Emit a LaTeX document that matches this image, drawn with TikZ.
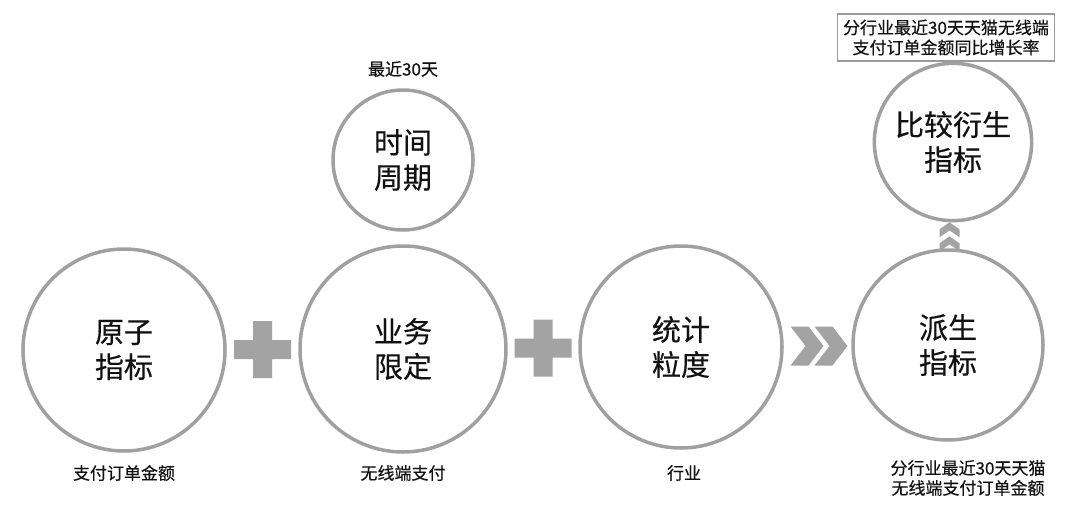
\documentclass[tikz,border=0pt]{standalone}
\usepackage{fontspec}
\setmainfont[FakeBold=0.4]{Noto Sans CJK SC}
\usetikzlibrary{calc}
\definecolor{ringgray}{HTML}{A0A0A0}
\definecolor{markgray}{HTML}{A3A3A3}
\definecolor{boxgray}{HTML}{9A9A9A}
\definecolor{inkcol}{HTML}{111111}
\begin{document}
\begin{tikzpicture}[x=1pt,y=-1pt,
  ring/.style={circle, draw=ringgray, line width=3.5pt, fill=white, align=center,
    text=inkcol, font=\fontsize{29}{35}\selectfont, inner sep=0pt},
  note/.style={align=center, text=inkcol, font=\fontsize{17}{20}\selectfont, inner sep=0pt},
  markfill/.style={fill=markgray}
]
\useasboundingbox[fill=white] (0,0) rectangle (1080,520);

% circles
\node[ring, minimum size=202pt] (c1) at (124,350) {原子\\指标};
\node[ring, minimum size=206pt] (c2) at (403,349) {业务\\限定};
\node[ring, minimum size=202pt] (c3) at (681,347) {统计\\粒度};
\node[ring, minimum size=190pt] (c4) at (948,345) {派生\\指标};
\node[ring, minimum size=140pt] (ct) at (403,160) {时间\\周期};
\node[ring, minimum size=134pt] (cc) at (953,142) {\raisebox{-4pt}{\parbox{5em}{\centering 比较衍生\\指标}}};

% labels
\node[note] (l1) at (124,473) {支付订单金额};
\node[note] (l2) at (403,473) {无线端支付};
\node[note] (l3) at (684,473) {行业};
\node[note] (l4) at (968,478) {分行业最近30天天猫\\无线端支付订单金额};
\node[note] (lt) at (403,69) {最近30天};
\node[note, draw=boxgray, line width=1.5pt, minimum width=217pt, minimum height=47pt] (box) at (946,37.5) {分行业最近30天天猫无线端\\支付订单金额同比增长率};

% plus signs
\coordinate (p1) at ($(c1.east)!0.5!(c2.west)$);
\coordinate (p2) at ($(c2.east)!0.5!(c3.west)$);
\foreach \p in {p1,p2}{
  \fill[markfill, shift={(\p)}] (-28.5,-9.5) -- (-9.5,-9.5) -- (-9.5,-28.5) -- (9.5,-28.5) -- (9.5,-9.5)
    -- (28.5,-9.5) -- (28.5,9.5) -- (9.5,9.5) -- (9.5,28.5) -- (-9.5,28.5) -- (-9.5,9.5) -- (-28.5,9.5) -- cycle;
}

% double chevron right
\coordinate (chv) at ($(c3.east)!0.5!(c4.west)+(2,0)$);
\fill[markfill, shift={(chv)}] (-29,-19.5) -- (-11,-19.5) -- (4,0) -- (-11,19.5) -- (-29,19.5) -- (-14,0) -- cycle;
\fill[markfill, shift={(chv)}] (-5,-19.5) -- (13,-19.5) -- (28,0) -- (13,19.5) -- (-5,19.5) -- (10,0) -- cycle;

% double chevron up
\coordinate (upc) at ($(cc.south)!0.5!(c4.north)+(-1,1)$);
\fill[markfill, shift={(upc)}] (0,-14) -- (10,-7) -- (10,1) -- (0,-6) -- (-10,1) -- (-10,-7) -- cycle;
\fill[markfill, shift={(upc)}] (0,0) -- (10,7) -- (10,15) -- (0,8) -- (-10,15) -- (-10,7) -- cycle;
\end{tikzpicture}
\end{document}
